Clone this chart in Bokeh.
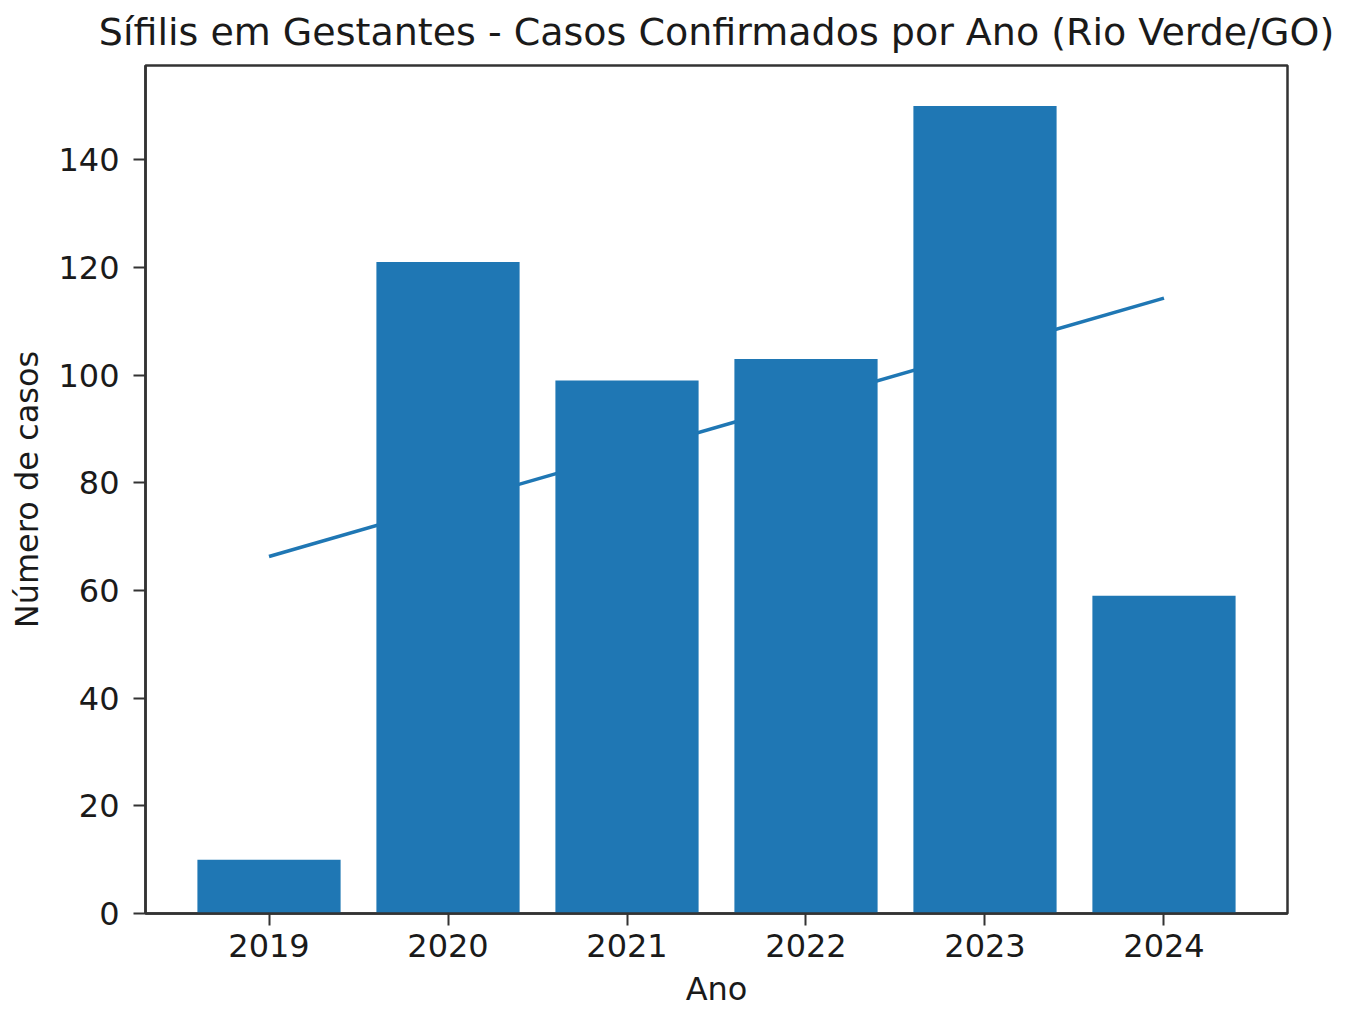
from bokeh.plotting import figure
from bokeh.models import FixedTicker, Range1d
from bokeh.embed import file_html
from bokeh.resources import INLINE

years = [2019, 2020, 2021, 2022, 2023, 2024]
cases = [10, 121, 99, 103, 150, 59]
trend_years = [2019, 2024]
trend_values = [66.3, 114.3]
y_ticks = [0, 20, 40, 60, 80, 100, 120, 140]

FONT = "DejaVu Sans"
BLUE = "#1f77b4"

W, H = 1349, 1010
p = figure(width=W, height=H, output_backend="svg", toolbar_location=None,
           x_range=Range1d(2018.31, 2024.69), y_range=Range1d(0, 157.5),
           min_border_left=145, min_border_right=W - 1287, min_border_top=65,
           min_border_bottom=H - 913,
           title="Sífilis em Gestantes - Casos Confirmados por Ano (Rio Verde/GO)")

p.line(trend_years, trend_values, line_color=BLUE, line_width=3.5)
p.vbar(x=years, top=cases, width=0.8, bottom=0, fill_color=BLUE, line_color=None)

p.title.text_font = FONT
p.title.text_font_size = "38px"
p.title.text_font_style = "normal"
p.title.align = "center"
p.title.vertical_align = "top"
p.title.text_line_height = 0.85
p.title.text_color = "#1a1a1a"
p.title.standoff = 19

p.xgrid.visible = False
p.ygrid.visible = False
p.outline_line_color = "#333333"
p.outline_line_width = 2.5

p.xaxis.ticker = FixedTicker(ticks=years)
p.yaxis.ticker = FixedTicker(ticks=y_ticks)
p.xaxis.axis_label = "Ano"
p.yaxis.axis_label = "Número de casos"

for ax in (p.xaxis[0], p.yaxis[0]):
    ax.axis_line_color = "#333333"
    ax.axis_line_width = 2.5
    ax.major_tick_line_color = "#333333"
    ax.major_tick_line_width = 2
    ax.major_tick_out = 12
    ax.major_tick_in = 0
    ax.minor_tick_line_color = None
    ax.major_label_text_font = FONT
    ax.major_label_text_font_size = "32px"
    ax.major_label_text_color = "#1a1a1a"
    ax.axis_label_text_font = FONT
    ax.axis_label_text_font_size = "32px"
    ax.axis_label_text_font_style = "normal"
    ax.axis_label_text_color = "#1a1a1a"

p.xaxis.major_label_standoff = 8
p.xaxis.axis_label_standoff = 10
p.yaxis.major_label_standoff = 14
p.yaxis.axis_label_standoff = 9

open("out.html", "w").write(file_html(p, INLINE))
